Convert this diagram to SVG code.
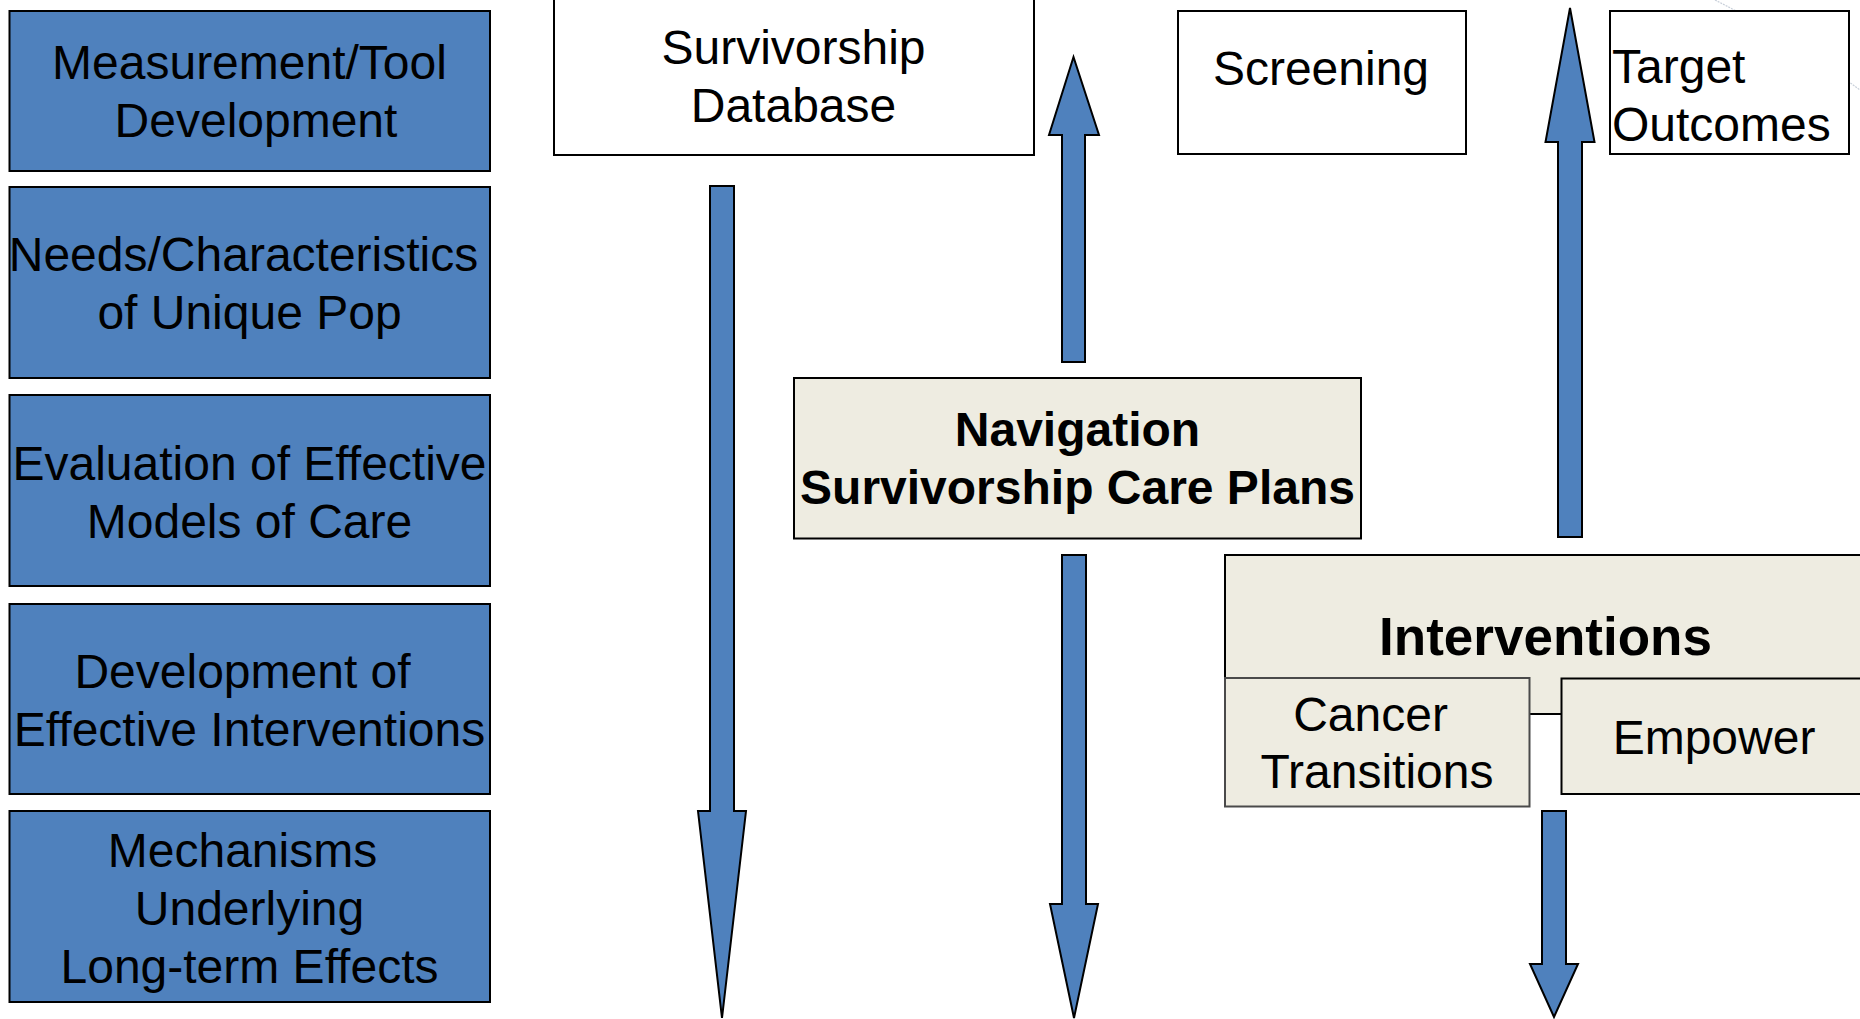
<svg xmlns="http://www.w3.org/2000/svg" width="1860" height="1019" viewBox="0 0 1860 1019">
<style>
  .blue { fill: #4F81BD; stroke: #000; stroke-width: 2; }
  .white { fill: #fff; stroke: #000; stroke-width: 2; }
  .beige { fill: #EEECE1; stroke: #000; stroke-width: 2; }
  .beige-soft { fill: #EEECE1; stroke: #4a4a4a; stroke-width: 2; }
  .arrow { fill: #4F81BD; stroke: #000; stroke-width: 2; stroke-linejoin: miter; }
  text { font-family: "Liberation Sans", Arial, sans-serif; fill: #000; }
  .t { font-size: 48px; text-anchor: middle; }
  .tl { font-size: 48px; text-anchor: start; }
  .b { font-size: 48px; font-weight: bold; text-anchor: middle; }
  .bh { font-size: 53px; font-weight: bold; text-anchor: middle; }
</style>
<rect width="1860" height="1019" fill="#fff"/>
<path d="M1715,0 Q1790,38 1860,90" fill="none" stroke="#c9d0da" stroke-width="1.2" stroke-dasharray="2 1"/>

<g id="measurement">
  <rect class="blue" x="9.5" y="11" width="480.5" height="160"/>
  <text class="t" x="249.5" y="79">Measurement/Tool</text>
  <text class="t" x="256" y="137">Development</text>
</g>
<g id="needs">
  <rect class="blue" x="9.5" y="187" width="480.5" height="191"/>
  <text class="t" x="243.5" y="271">Needs/Characteristics</text>
  <text class="t" x="249.5" y="329">of Unique Pop</text>
</g>
<g id="evaluation">
  <rect class="blue" x="9.5" y="395" width="480.5" height="191"/>
  <text class="t" x="249.5" y="480">Evaluation of Effective</text>
  <text class="t" x="249.5" y="538">Models of Care</text>
</g>
<g id="development">
  <rect class="blue" x="9.5" y="604" width="480.5" height="190"/>
  <text class="t" x="242.5" y="688">Development of</text>
  <text class="t" x="249.5" y="746">Effective Interventions</text>
</g>
<g id="mechanisms">
  <rect class="blue" x="9.5" y="811" width="480.5" height="191"/>
  <text class="t" x="242.5" y="867">Mechanisms</text>
  <text class="t" x="249.5" y="925">Underlying</text>
  <text class="t" x="249.5" y="983">Long-term Effects</text>
</g>

<g id="survivorship-database">
  <rect class="white" x="554" y="-5" width="480" height="160"/>
  <text class="t" x="793.5" y="64">Survivorship</text>
  <text class="t" x="793.5" y="122">Database</text>
</g>
<g id="screening">
  <rect class="white" x="1178" y="11" width="288" height="143"/>
  <text class="t" x="1321" y="85">Screening</text>
</g>
<g id="target-outcomes">
  <rect class="white" x="1610" y="11" width="239" height="143"/>
  <text class="tl" x="1612" y="83">Target</text>
  <text class="tl" x="1612" y="141">Outcomes</text>
</g>
<g id="navigation">
  <rect class="beige" x="794" y="378" width="567" height="160.5"/>
  <text class="b" x="1077.5" y="446">Navigation</text>
  <text class="b" x="1077.5" y="504">Survivorship Care Plans</text>
</g>
<g id="interventions">
  <rect class="beige" x="1225" y="555" width="660" height="159"/>
  <text class="bh" x="1545.5" y="655">Interventions</text>
</g>
<g id="cancer-transitions">
  <rect class="beige-soft" x="1225" y="678" width="304.5" height="128.5"/>
  <text class="t" x="1370.5" y="731">Cancer</text>
  <text class="t" x="1377" y="788">Transitions</text>
</g>
<g id="empower">
  <rect class="beige" x="1561.5" y="678.5" width="320" height="115.5"/>
  <text class="t" x="1714" y="754">Empower</text>
</g>

<g id="connectors">
  <polygon class="arrow" points="710,186 734,186 734,811 746,811 722,1018 698,811 710,811"/>
  <polygon class="arrow" points="1062,555 1086,555 1086,904 1098,904 1074,1018 1050,904 1062,904"/>
  <polygon class="arrow" points="1062,362 1085,362 1085,135 1099,135 1073.5,57 1049,135 1062,135"/>
  <polygon class="arrow" points="1558,537 1582,537 1582,142 1594.5,142 1570,8 1545.5,142 1558,142"/>
  <polygon class="arrow" points="1542,811 1566,811 1566,964 1578,964 1554,1017 1530,964 1542,964"/>
</g>
</svg>
